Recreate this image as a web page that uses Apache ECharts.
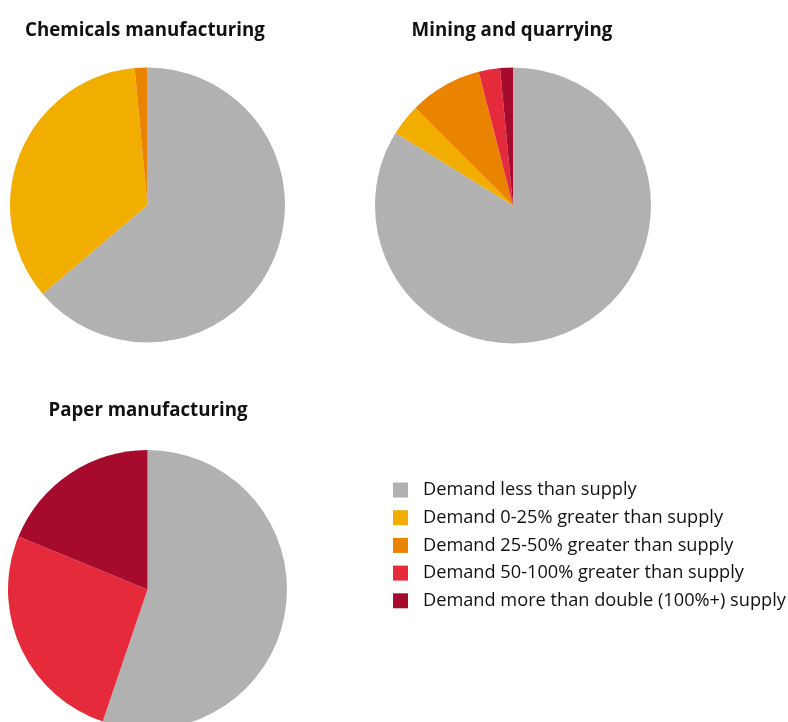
<!DOCTYPE html>
<html>
<head>
<meta charset="utf-8">
<script src="https://cdn.jsdelivr.net/npm/echarts@6/dist/echarts.min.js"></script>
<style>
  html, body { margin: 0; padding: 0; background: #fff; }
  #chart { width: 788px; height: 722px; }
</style>
</head>
<body>
<div id="chart"></div>
<script>
// categories and colours
const categories = [
  "Demand less than supply",
  "Demand 0-25% greater than supply",
  "Demand 25-50% greater than supply",
  "Demand 50-100% greater than supply",
  "Demand more than double (100%+) supply"
];
const colors = ["#b0b1b0", "#f2ae00", "#ea8300", "#e52a3b", "#a60b2e"];

// shares (%)
const chemicals = [63.8, 34.7, 1.5, 0, 0];
const mining = [83.8, 3.7, 8.5, 2.5, 1.5];
const paper = [55.2, 0, 0, 26.0, 18.8];

const titles = ["Chemicals manufacturing", "Mining and quarrying", "Paper manufacturing"];

const fontFamily = "'Open Sans', sans-serif";

function toData(values) {
  return values.map((v, i) => ({
    name: categories[i],
    value: v,
    itemStyle: { color: colors[i] }
  }));
}

function makePie(name, values, center, radius) {
  return {
    name: name,
    type: "pie",
    center: center,
    radius: radius,
    startAngle: 90,
    clockwise: true,
    avoidLabelOverlap: false,
    label: { show: false },
    labelLine: { show: false },
    emphasis: { disabled: true },
    itemStyle: { borderWidth: 0 },
    data: toData(values)
  };
}

const titleStyle = { fontFamily: fontFamily, fontSize: 18.7, fontWeight: "bold", color: "#111" };

const chart = echarts.init(document.getElementById("chart"));
chart.setOption({
  animation: false,
  color: colors,
  title: [
    { text: titles[0], left: 140, top: 16, textAlign: "center", textStyle: titleStyle },
    { text: titles[1], left: 507, top: 16, textAlign: "center", textStyle: titleStyle },
    { text: titles[2], left: 143, top: 396, textAlign: "center", textStyle: titleStyle }
  ],
  legend: {
    orient: "vertical",
    left: 388,
    top: 476,
    itemWidth: 15,
    itemHeight: 15,
    itemGap: 9.7,
    icon: "rect",
    selectedMode: false,
    data: categories,
    textStyle: { fontFamily: fontFamily, fontSize: 18.2, lineHeight: 15, color: "#111", padding: [0, 0, 0, 10] }
  },
  series: [
    makePie(titles[0], chemicals, [147.5, 205], 137.5),
    makePie(titles[1], mining, [513, 205.5], 138),
    makePie(titles[2], paper, [147.5, 589.5], 139.5)
  ]
});
</script>
</body>
</html>
